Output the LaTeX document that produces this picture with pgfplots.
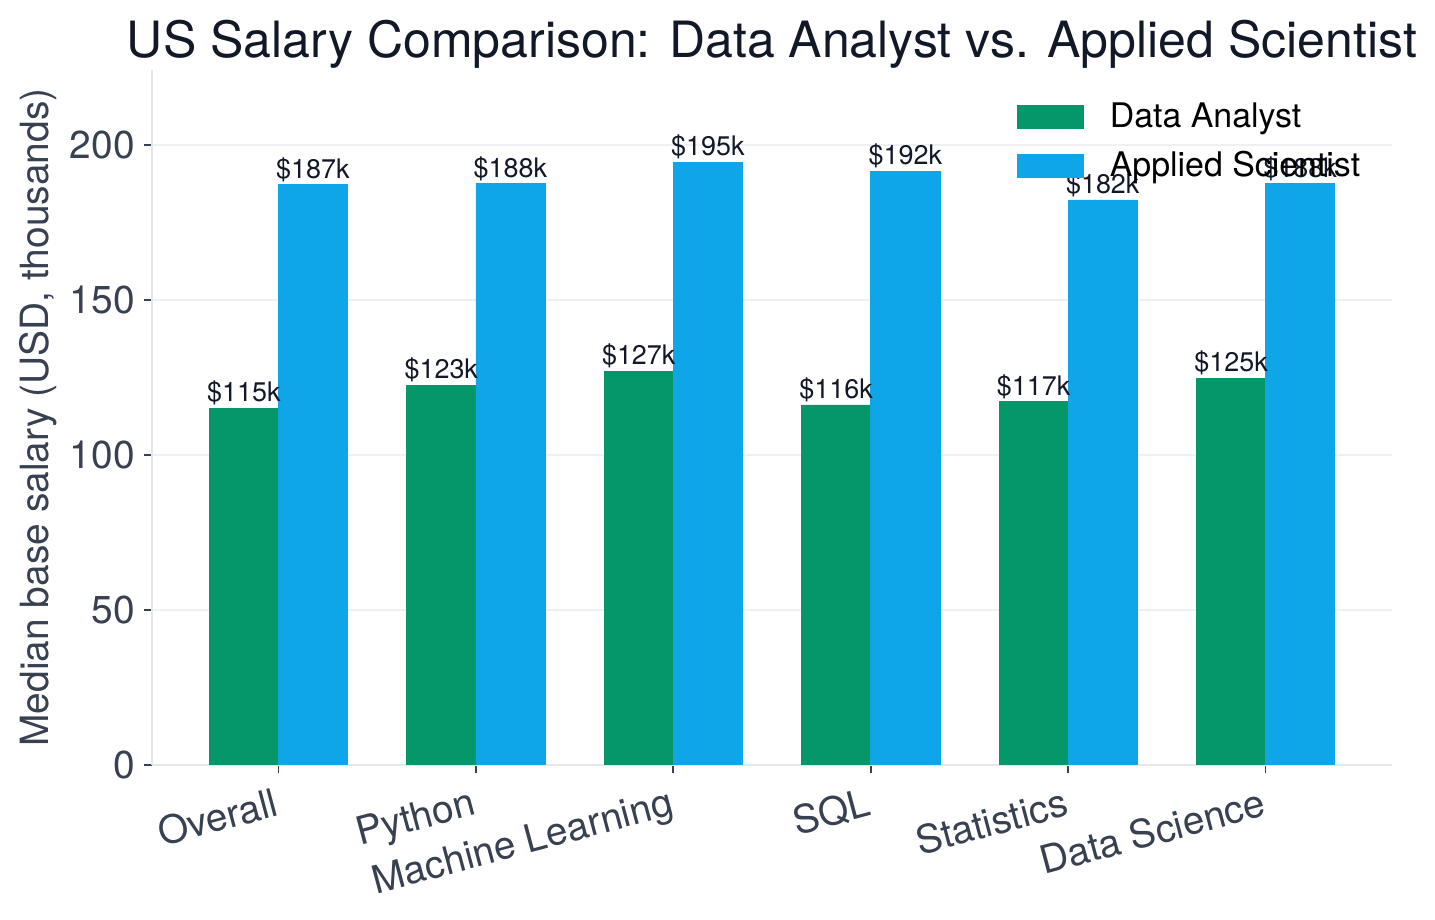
\documentclass[border=0pt]{standalone}
\usepackage{pgfplots}
\pgfplotsset{compat=1.18}
\usepackage{fontspec}
\setmainfont{TeX Gyre Heros}
\definecolor{cda}{HTML}{059669}
\definecolor{cas}{HTML}{0EA5E9}
\definecolor{ctitle}{HTML}{111827}
\definecolor{ctick}{HTML}{374151}
\definecolor{cspine}{HTML}{E5E7EB}
\definecolor{cgrid}{HTML}{EEF0F3}
\begin{document}
\begin{tikzpicture}
\useasboundingbox (-54.72pt,-55.8pt) rectangle ++(516.6pt,331.2pt);
\begin{axis}[
  scale only axis,
  width=446.4pt, height=250.2pt,
  xmin=-0.64, xmax=5.64,
  ymin=0, ymax=224.3,
  axis x line*=bottom, axis y line*=left,
  axis line style={cspine, line width=1pt},
  xtick={0,1,2,3,4,5},
  xticklabels={Overall,Python,Machine Learning,SQL,Statistics,Data Science},
  ytick={0,50,100,150,200},
  tick align=outside,
  major tick length=3pt,
  tick style={ctick, line width=0.6pt},
  ymajorgrids,
  grid style={cgrid, line width=0.6pt},
  /pgf/number format/assume math mode=true,
  ticklabel style={font=\fontsize{14}{16}\selectfont, text=ctick},
  xticklabel style={rotate=15, anchor=north east, inner sep=2pt, yshift=-2pt, xshift=-1pt},
  yticklabel style={inner sep=2pt, xshift=-1pt},
  ylabel={Median base salary (USD, thousands)},
  ylabel style={font=\fontsize{14}{16}\selectfont, text=ctick, at={([xshift=-41pt]rel axis cs:0,0.5)}, anchor=center},
  title={US Salary Comparison: Data Analyst vs. Applied Scientist},
  title style={font=\fontsize{18}{21}\selectfont, text=ctitle, at={(rel axis cs:0.5,1)}, anchor=base, inner sep=0pt, yshift=-1.6pt},
  ybar,
  bar width=0.35,
  nodes near coords={\$\pgfmathprintnumber[fixed,precision=0]{\pgfplotspointmeta}k},
  every node near coord/.append style={font=\fontsize{9.7}{12}\selectfont, text=ctitle, inner sep=1pt, yshift=0pt},
  legend cell align=left,
  legend style={draw=none, fill=none, at={(rel axis cs:0.69,0.97)}, anchor=north west, font=\fontsize{12.2}{14}\selectfont, row sep=3pt, column sep=7.4pt},
  legend image code/.code={\fill[#1] (0pt,-4.15pt) rectangle (24pt,4.15pt);},
]
\addplot[fill=cda, draw=cda, line width=0.2pt, bar shift=-0.175] coordinates {(0,115.1) (1,122.6) (2,127.1) (3,116.2) (4,117.3) (5,124.8)};
\addplot[fill=cas, draw=cas, line width=0.2pt, bar shift=0.175] coordinates {(0,187.3) (1,187.6) (2,194.6) (3,191.7) (4,182.4) (5,187.6)};
\legend{Data Analyst, Applied Scientist}
\end{axis}
\end{tikzpicture}
\end{document}
